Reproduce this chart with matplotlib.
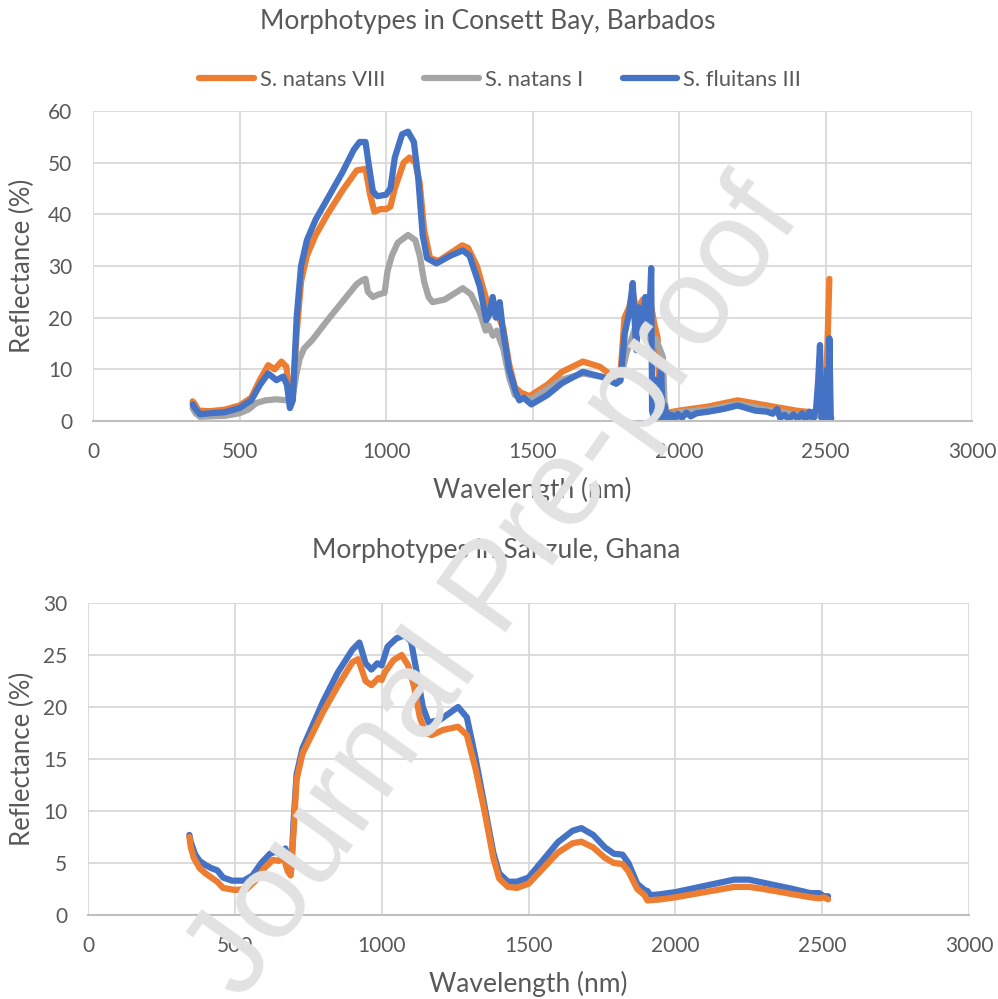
import matplotlib.pyplot as plt

plt.rcParams['font.family'] = ['Lato', 'DejaVu Sans']

# ---- Consett Bay, Barbados ----
wl_natans8 = [340, 345, 360, 400, 450, 500, 540, 570, 598, 620, 643, 660, 672, 682, 695, 710, 730, 760,
              800, 850, 900, 930, 945, 960, 980, 1000, 1015, 1030, 1060, 1080, 1100, 1115, 1130, 1150,
              1180, 1220, 1260, 1280, 1310, 1340, 1355, 1370, 1385, 1400, 1420, 1440, 1460, 1490, 1550,
              1600, 1672, 1730, 1774, 1800, 1814, 1830, 1842, 1855, 1876, 1899, 1915, 1927, 1935, 1950,
              2000, 2100, 2200, 2300, 2400, 2450, 2500, 2513]
r_natans8 = [3.8, 3.5, 2.0, 1.9, 2.2, 3.0, 4.5, 8, 10.8, 10, 11.5, 10.5, 4, 5, 17, 27, 32, 36,
             40, 44.5, 48.5, 48.8, 44, 40.5, 41, 41, 41.5, 45, 50, 51, 50, 46, 37, 31.5,
             31, 32.5, 34, 33.5, 30, 24, 21, 22.5, 20, 18, 11, 6.5, 5.5, 4.8, 7,
             9.5, 11.5, 10.5, 8.6, 9, 20, 22, 25, 21, 23.5, 24, 19, 16, 0.5, 1.5,
             2, 2.8, 4, 3, 2, 1.7, 2, 27.5]

wl_natans1 = [340, 350, 365, 400, 450, 500, 530, 558, 590, 626, 660, 680, 694, 705, 720, 750, 800, 850,
              900, 920, 930, 938, 955, 975, 995, 1005, 1020, 1040, 1075, 1100, 1115, 1130, 1145, 1159,
              1200, 1262, 1290, 1320, 1340, 1350, 1365, 1378, 1390, 1400, 1420, 1440, 1460, 1500, 1550,
              1600, 1672, 1740, 1785, 1800, 1820, 1850, 1880, 1899, 1920, 1945, 1950, 1960, 2000, 2100,
              2200, 2300, 2400, 2480, 2500, 2520]
r_natans1 = [2.5, 1.5, 0.8, 0.9, 1.0, 1.5, 2.2, 3.5, 4.0, 4.2, 4.0, 4.3, 9, 12, 14, 15.8, 19.5, 23,
             26.5, 27.3, 27.5, 25, 24, 24.5, 24.8, 29, 32, 34.5, 36, 35, 32, 27, 24, 23,
             23.5, 25.7, 24.5, 21, 17.5, 18.5, 16.5, 17.5, 15.5, 14, 8.5, 5, 4.5, 4.3, 6.2,
             8, 9.2, 8.5, 7.3, 8, 13, 18, 17, 15.7, 16, 12.4, 4, 1, 1.7, 2.2,
             3.3, 2.2, 1.2, 1, 1.5, 0.5]

wl_fluitans3 = [340, 350, 365, 400, 450, 500, 540, 570, 598, 626, 649, 662, 672, 682, 695, 710, 730, 760,
                800, 850, 890, 910, 930, 940, 955, 970, 1000, 1015, 1030, 1055, 1075, 1095, 1110, 1125,
                1140, 1172, 1220, 1262, 1285, 1320, 1342, 1352, 1364, 1375, 1388, 1398, 1420, 1444, 1455,
                1470, 1496, 1550, 1600, 1672, 1740, 1785, 1800, 1815, 1830, 1842, 1848, 1854, 1862, 1870,
                1876, 1885, 1893, 1900, 1905, 1908, 1915, 1920, 1925, 1932, 1939, 1944, 1950, 1956, 1962,
                1968, 1975, 1985, 1995, 2010, 2025, 2040, 2060, 2100, 2150, 2200, 2230, 2260, 2300, 2320,
                2335, 2345, 2360, 2375, 2390, 2405, 2420, 2432, 2445, 2458, 2468, 2475, 2481, 2487, 2495,
                2500, 2506, 2510, 2513, 2518]
r_fluitans3 = [3.2, 2.3, 1.3, 1.5, 1.7, 2.5, 4, 7, 9.2, 7.9, 8.6, 7, 2.5, 4, 20, 30, 35, 39,
               43, 48, 52.5, 54, 54, 50, 44.5, 43.5, 43.8, 45, 51, 55.5, 56, 54, 47, 36,
               31.5, 30.5, 32, 33, 32, 26, 19.5, 20.5, 24, 20, 23, 18, 10, 5.4, 4,
               4.5, 3.2, 5, 7.3, 9.5, 8.5, 7.2, 7.8, 17, 21, 26.7, 20, 13.7, 22, 19,
               18.3, 24, 17, 22, 29.6, 2, 0.2, 8, 0.5, 5, 10.5, 0.3, 3, 0.5, 1.5,
               0.4, 1.2, 0.3, 1.4, 0.6, 1.6, 0.9, 1.5, 1.8, 2.3, 3, 2.5, 2, 1.8, 1.4,
               2.3, 0.6, 1.2, 0.3, 1.3, 0.4, 1.5, 0.2, 1.8, 0.3, 2.5, 8, 14.7, 0.5, 6,
               0.3, 10, 0.4, 16, 0]

# ---- Sanzule, Ghana ----
wl_gh_fluitans = [345, 350, 365, 380, 400, 420, 440, 460, 490, 530, 560, 590, 620, 640, 655, 672, 685, 692,
                  700, 710, 730, 800, 850, 900, 924, 945, 965, 985, 1000, 1020, 1050, 1079, 1100, 1115,
                  1140, 1160, 1200, 1260, 1290, 1320, 1350, 1380, 1400, 1430, 1460, 1500, 1550, 1600,
                  1650, 1680, 1720, 1760, 1790, 1820, 1840, 1870, 1895, 1905, 1915, 1950, 2000, 2100,
                  2200, 2250, 2300, 2400, 2460, 2490, 2505, 2520]
r_gh_fluitans = [7.7, 7, 5.8, 5.2, 4.8, 4.5, 4.3, 3.6, 3.3, 3.3, 3.8, 5, 5.9, 6.1, 5.8, 6.4, 5, 4.4,
                 9, 13.5, 16, 20.5, 23.3, 25.5, 26.2, 24.2, 23.6, 24.2, 24.0, 25.8, 26.6, 26.9, 26.3, 24,
                 20, 18.5, 18.8, 20, 19, 15, 10.5, 6, 4, 3.2, 3.2, 3.6, 5.3, 7,
                 8.1, 8.35, 7.7, 6.5, 5.9, 5.8, 5.0, 3.0, 2.4, 2.3, 1.9, 2, 2.2, 2.8,
                 3.4, 3.4, 3.1, 2.5, 2.1, 2.1, 1.8, 1.8]

wl_gh_natans = [345, 350, 360, 380, 400, 420, 440, 460, 500, 540, 570, 600, 630, 650, 665, 680, 690,
                700, 710, 730, 800, 850, 900, 920, 945, 965, 990, 1000, 1010, 1040, 1068, 1090, 1110,
                1130, 1150, 1170, 1210, 1260, 1290, 1320, 1350, 1380, 1400, 1430, 1460, 1500, 1550,
                1600, 1650, 1680, 1720, 1760, 1790, 1820, 1840, 1870, 1895, 1905, 1950, 2000, 2100,
                2200, 2250, 2300, 2400, 2460, 2490, 2505, 2520]
r_gh_natans = [7.5, 6.5, 5.5, 4.5, 4.0, 3.6, 3.2, 2.6, 2.4, 2.5, 3.3, 4.5, 5.3, 5.2, 5.6, 4.2, 3.8,
               8, 13, 15.5, 19.5, 22, 24.3, 24.6, 22.5, 22.1, 22.8, 22.6, 23.3, 24.5, 25, 24, 22,
               19, 17.5, 17.3, 17.8, 18.1, 17.3, 14, 10, 5.5, 3.5, 2.7, 2.6, 3, 4.5,
               6, 6.9, 7.05, 6.5, 5.5, 5.0, 4.9, 4.2, 2.5, 1.9, 1.4, 1.5, 1.7, 2.2,
               2.7, 2.7, 2.5, 2.0, 1.7, 1.6, 1.7, 1.5]

ORANGE = '#ed7d31'
GREY = '#a5a5a5'
BLUE = '#4472c4'
TXT = '#595959'

fig = plt.figure(figsize=(9.98, 9.99), dpi=100)
ax1 = fig.add_axes([0.0932, 0.5786, 0.8808, 0.3103])
ax2 = fig.add_axes([0.0882, 0.0841, 0.8828, 0.3123])

kw = dict(lw=4.5, solid_capstyle='round', solid_joinstyle='round')
ax1.plot(wl_natans8, r_natans8, color=ORANGE, label='S. natans VIII', **kw)
ax1.plot(wl_natans1, r_natans1, color=GREY, label='S. natans I', **kw)
ax1.plot(wl_fluitans3, r_fluitans3, color=BLUE, label='S. fluitans III', **kw)

ax2.plot(wl_gh_fluitans, r_gh_fluitans, color=BLUE, **kw)
ax2.plot(wl_gh_natans, r_gh_natans, color=ORANGE, **kw)


def style(ax, ymax, ystep, ylab_x):
    ax.set_xlim(0, 3000)
    ax.set_ylim(0, ymax)
    ax.set_xticks(range(0, 3001, 500))
    ax.set_yticks(range(0, ymax + 1, ystep))
    ax.grid(True, color='#d9d9d9', lw=1.3)
    ax.set_axisbelow(True)
    for s in ['top', 'right', 'left']:
        ax.spines[s].set_visible(False)
    ax.spines['bottom'].set_color('#bfbfbf')
    ax.spines['bottom'].set_linewidth(1.5)
    ax.tick_params(length=0, labelsize=15, labelcolor=TXT, pad=15)
    ax.set_xlabel('Wavelength (nm)', fontsize=19, color=TXT, labelpad=11)
    ax.set_ylabel('Reflectance (%)', fontsize=18.5, color=TXT, va='center')
    ax.yaxis.set_label_coords(ylab_x, 0.5)


style(ax1, 60, 10, (22 - 93) / 879)
style(ax2, 30, 5, (22 - 88) / 881)

fig.text(0.489, 0.978, 'Morphotypes in Consett Bay, Barbados', fontsize=19, color=TXT,
         ha='center', va='center')
fig.text(0.497, 0.449, 'Morphotypes in Sanzule, Ghana', fontsize=19, color=TXT,
         ha='center', va='center')

leg = ax1.legend(loc='center', bbox_to_anchor=(0.463, 1.1), ncol=3, frameon=False,
                 fontsize=15.8, handlelength=2.5, handletextpad=0.25, columnspacing=1.8)
for t in leg.get_texts():
    t.set_color(TXT)

fig.text(0.497, 0.409, 'Journal Pre-proof', fontsize=90, color='#e2e2e2', rotation=54.5,
         ha='center', va='center', family=['Liberation Sans', 'DejaVu Sans'], zorder=10)

fig.savefig('out.png', dpi=100)
